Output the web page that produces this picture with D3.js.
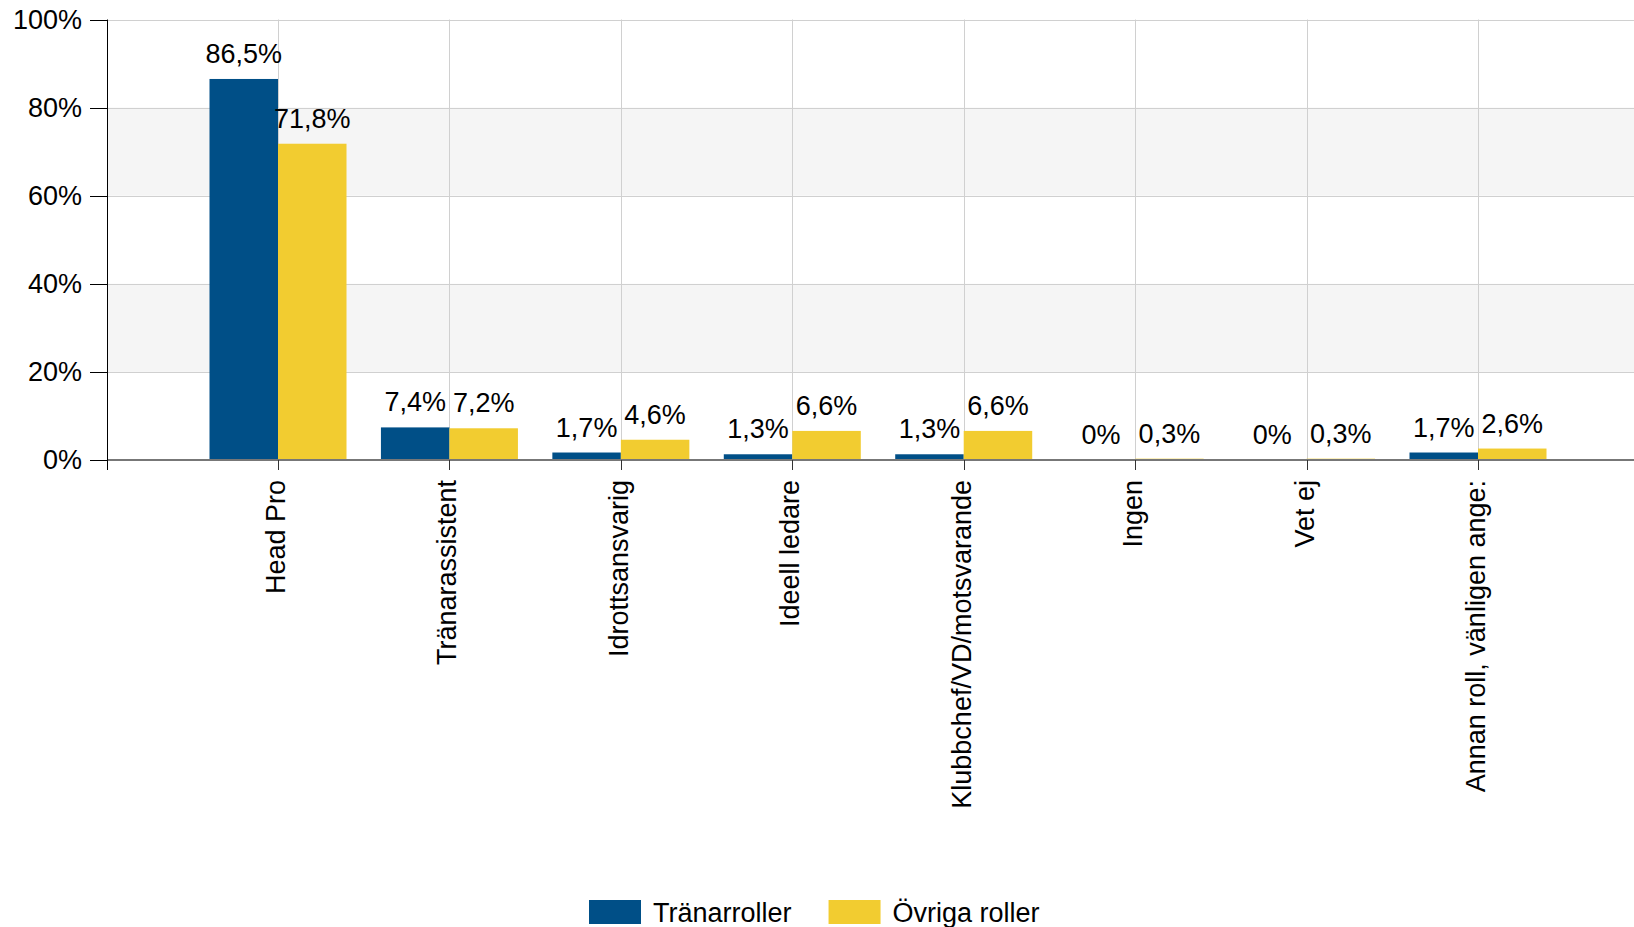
<!DOCTYPE html>
<html>
<head>
<meta charset="utf-8">
<script src="https://cdn.jsdelivr.net/npm/d3@7"></script>
<style>
  body { margin: 0; background: #fff; }
  svg text { font-family: Arial, "Liberation Sans", sans-serif; fill: #000; }
</style>
</head>
<body>
<svg id="chart"></svg>
<script>
const categories = ["Head Pro", "Tränarassistent", "Idrottsansvarig", "Ideell ledare",
                    "Klubbchef/VD/motsvarande", "Ingen", "Vet ej", "Annan roll, vänligen ange:"];
const seriesNames = ["Tränarroller", "Övriga roller"];
const seriesColors = ["#004f87", "#f2cc30"];
const tranarroller = [86.5, 7.4, 1.7, 1.3, 1.3, 0, 0, 1.7];
const ovrigaRoller = [71.8, 7.2, 4.6, 6.6, 6.6, 0.3, 0.3, 2.6];
const yTicks = [0, 20, 40, 60, 80, 100];

const width = 1634, height = 927;
const plot = {left: 107, right: 1634, top: 19.5, bottom: 460};
const fontSize = 27;

const svg = d3.select("#chart")
              .attr("width", width)
              .attr("height", height);

const x0 = d3.scalePoint()
             .domain(categories)
             .range([278, 1478]);

const x1 = d3.scaleBand()
             .domain(seriesNames)
             .range([-68.5, 68.5]);

const y = d3.scaleLinear()
            .domain([0, 100])
            .range([plot.bottom, plot.top]);

const fmt = v => (v === 0 ? "0" : d3.format(".1f")(v).replace(".", ",")) + "%";

// shaded bands 20-40 and 60-80
svg.append("g")
   .selectAll("rect")
   .data([[20, 40], [60, 80]])
   .enter()
   .append("rect")
   .attr("x", plot.left)
   .attr("y", d => y(d[1]))
   .attr("width", plot.right - plot.left)
   .attr("height", d => y(d[0]) - y(d[1]))
   .style("fill", "#f5f5f5");

// grid
svg.append("g")
   .selectAll("line")
   .data(yTicks.filter(d => d > 0))
   .enter()
   .append("line")
   .attr("x1", plot.left)
   .attr("x2", plot.right)
   .attr("y1", d => Math.round(y(d)) + 0.5)
   .attr("y2", d => Math.round(y(d)) + 0.5)
   .style("stroke", "#d0d0d0");

svg.append("g")
   .selectAll("line")
   .data(categories)
   .enter()
   .append("line")
   .attr("x1", d => Math.round(x0(d)) + 0.5)
   .attr("x2", d => Math.round(x0(d)) + 0.5)
   .attr("y1", plot.top)
   .attr("y2", plot.bottom)
   .style("stroke", "#d0d0d0");

// bars
const rows = categories.map((c, i) => ({cat: c, values: [tranarroller[i], ovrigaRoller[i]]}));

const groups = svg.append("g")
                  .selectAll("g")
                  .data(rows)
                  .enter()
                  .append("g")
                  .attr("transform", d => "translate(" + x0(d.cat) + ",0)");

groups.selectAll("rect")
      .data(d => d.values.map((v, j) => ({name: seriesNames[j], value: v, color: seriesColors[j]})))
      .enter()
      .append("rect")
      .attr("x", d => x1(d.name))
      .attr("y", d => y(d.value))
      .attr("width", x1.bandwidth())
      .attr("height", d => y(0) - y(d.value))
      .style("fill", d => d.color);

groups.selectAll("text")
      .data(d => d.values.map((v, j) => ({name: seriesNames[j], value: v})))
      .enter()
      .append("text")
      .attr("x", d => x1(d.name) + x1.bandwidth() / 2)
      .attr("y", d => y(d.value) - 16)
      .attr("text-anchor", "middle")
      .style("font-size", fontSize + "px")
      .text(d => fmt(d.value));

// x axis
const xAxis = svg.append("g")
                 .attr("transform", "translate(0," + plot.bottom + ")");

xAxis.append("line")
     .attr("x1", plot.left)
     .attr("x2", plot.right)
     .style("stroke", "#777")
     .style("stroke-width", 2);

xAxis.selectAll(".tick")
     .data(categories)
     .enter()
     .append("line")
     .attr("class", "tick")
     .attr("x1", d => Math.round(x0(d)) + 0.5)
     .attr("x2", d => Math.round(x0(d)) + 0.5)
     .attr("y1", 0)
     .attr("y2", 10)
     .style("stroke", "#333");

xAxis.selectAll(".xlabel")
     .data(categories)
     .enter()
     .append("text")
     .attr("class", "xlabel")
     .attr("transform", d => "translate(" + (x0(d) + 7) + ",20) rotate(-90)")
     .attr("text-anchor", "end")
     .style("font-size", fontSize + "px")
     .text(d => d);

// y axis
const yAxis = svg.append("g");

yAxis.append("line")
     .attr("x1", plot.left + 0.5)
     .attr("x2", plot.left + 0.5)
     .attr("y1", plot.top)
     .attr("y2", plot.bottom + 10)
     .style("stroke", "#000");

yAxis.selectAll(".tick")
     .data(yTicks)
     .enter()
     .append("line")
     .attr("class", "tick")
     .attr("x1", plot.left - 17)
     .attr("x2", plot.left)
     .attr("y1", d => Math.round(y(d)) + 0.5)
     .attr("y2", d => Math.round(y(d)) + 0.5)
     .style("stroke", "#000");

yAxis.selectAll(".ylabel")
     .data(yTicks)
     .enter()
     .append("text")
     .attr("class", "ylabel")
     .attr("x", plot.left - 25)
     .attr("y", d => y(d) + 9)
     .attr("text-anchor", "end")
     .style("font-size", fontSize + "px")
     .text(d => d + "%");

// legend
const legend = svg.append("g")
                  .attr("transform", "translate(589,900)");

let lx = 0;
seriesNames.forEach((name, i) => {
  const item = legend.append("g").attr("transform", "translate(" + lx + ",0)");
  item.append("rect")
      .attr("width", 52)
      .attr("height", 24)
      .style("fill", seriesColors[i]);
  const t = item.append("text")
                .attr("x", 64)
                .attr("y", 22)
                .style("font-size", fontSize + "px")
                .text(name);
  lx += 64 + t.node().getComputedTextLength() + 37;
});
</script>
</body>
</html>
